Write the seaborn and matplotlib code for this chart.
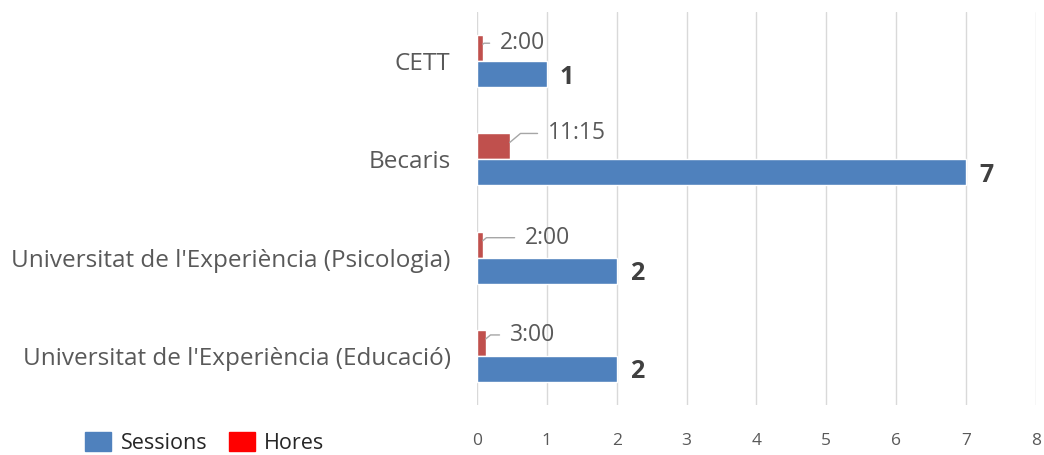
import pandas as pd
import matplotlib.pyplot as plt
import seaborn as sns
from matplotlib.patches import Patch

# data
categories = ["CETT", "Becaris", "Universitat de l'Experiència (Psicologia)",
              "Universitat de l'Experiència (Educació)"]
sessions = [1, 7, 2, 2]
hores_text = ["2:00", "11:15", "2:00", "3:00"]

BLUE = "#4F81BD"
RED = "#C0504D"
GREY = "#595959"


def to_days(hhmm):
    h, m = hhmm.split(":")
    return (int(h) + int(m) / 60) / 24


def main():
    hores = [to_days(t) for t in hores_text]
    df = pd.concat([
        pd.DataFrame({"cat": categories, "serie": "Hores", "val": hores}),
        pd.DataFrame({"cat": categories, "serie": "Sessions", "val": sessions}),
    ])

    sns.set_style("white")
    plt.rcParams["font.family"] = ["Open Sans", "DejaVu Sans"]

    fig = plt.figure(figsize=(10.44, 4.55), dpi=100)
    ax = fig.add_axes([0.4569, 0.1099, 0.5354, 0.8637])
    sns.barplot(data=df, x="val", y="cat", hue="serie", order=categories,
                hue_order=["Hores", "Sessions"], palette=[RED, BLUE],
                orient="h", width=0.53, gap=0, legend=False, ax=ax,
                saturation=1, errorbar=None)

    ax.set_xlim(0, 8)
    ax.set_xticks(range(0, 9))
    ax.set_ylim(3.5, -0.5)
    ax.grid(axis="x", color="#D9D9D9", linewidth=1)
    ax.set_axisbelow(True)
    for s in ax.spines.values():
        s.set_visible(False)
    ax.set_xlabel("")
    ax.set_ylabel("")
    ax.tick_params(axis="x", length=0, pad=20, labelsize=12.5, labelcolor=GREY)
    ax.tick_params(axis="y", length=0, pad=19, labelsize=17.5, labelcolor=GREY)

    # labels of the red bars, with leader lines
    offsets = [(17, 1), (38, 9), (42, 3), (24, 4)]
    hores_bars, sess_bars = ax.containers[0], ax.containers[1]
    for bar, txt, (dx, dy) in zip(hores_bars, hores_text, offsets):
        x = bar.get_x() + bar.get_width()
        y = bar.get_y() + bar.get_height() * 0.35
        ax.annotate(txt, xy=(x, y), xytext=(dx, dy), textcoords="offset pixels",
                    ha="left", va="center", fontsize=16.5, color=GREY,
                    arrowprops=dict(arrowstyle="-", color="#A6A6A6", lw=1,
                                    shrinkA=5, shrinkB=0, relpos=(0, 0.5),
                                    connectionstyle="angle,angleA=0,angleB=40,rad=0"))

    for bar, v in zip(sess_bars, sessions):
        x = bar.get_x() + bar.get_width()
        y = bar.get_y() + bar.get_height() / 2
        ax.annotate(str(v), xy=(x, y), xytext=(13, -3), textcoords="offset pixels",
                    ha="left", va="center", fontsize=18, fontweight="bold",
                    color="#404040")

    handles = [Patch(color=BLUE, label="Sessions"), Patch(color="#FF0000", label="Hores")]
    fig.legend(handles=handles, loc="lower left", bbox_to_anchor=(0.063, -0.04),
               ncol=2, frameon=False, fontsize=15.5, handlelength=1.2,
               handleheight=1.0, columnspacing=1.0, handletextpad=0.45)

    fig.savefig("out.png", dpi=100)


if __name__ == "__main__":
    main()
